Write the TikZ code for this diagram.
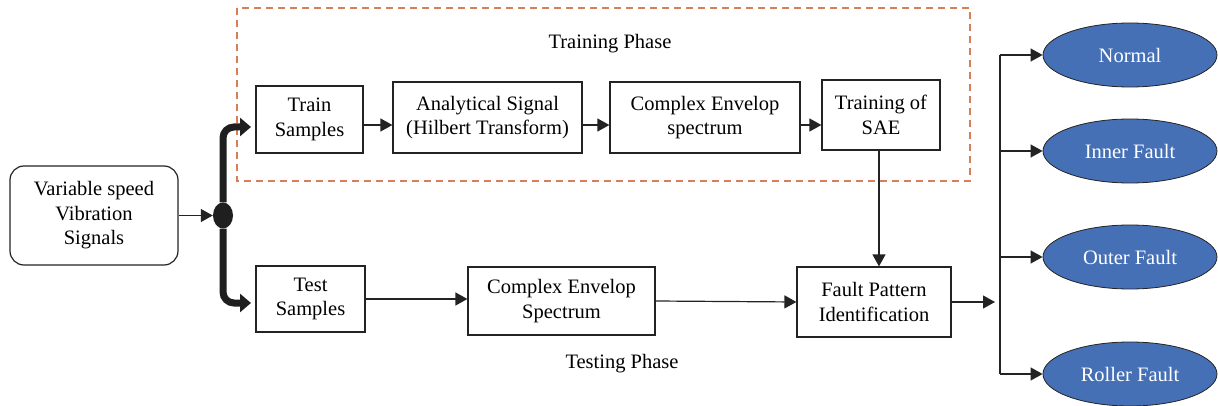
\documentclass[tikz,border=0pt]{standalone}
\usepackage{fontspec}
\setmainfont{Liberation Serif}
\usetikzlibrary{arrows.meta,shapes.geometric}
\definecolor{linegray}{RGB}{35,35,35}
\definecolor{phaseorange}{RGB}{214,128,88}
\definecolor{classblue}{RGB}{70,112,182}
\begin{document}
\begin{tikzpicture}[x=1pt,y=-1pt,
  font=\fontsize{20.5}{24.5}\selectfont,
  box/.style={draw=linegray, line width=1.2pt, align=center, inner sep=0pt},
  arr/.style={draw=linegray, line width=1.2pt, -{Triangle[length=12pt,width=13pt]}},
  thick/.style={draw=black!88, line width=7pt, rounded corners=11pt,
    -{Triangle[length=11pt,width=18pt]}},
  cls/.style={ellipse, draw=linegray, fill=classblue, text=white, line width=0.8pt,
    minimum width=174pt, minimum height=64pt, inner sep=0pt}]
\useasboundingbox (0,0) rectangle (1218,406);

% training phase frame
\draw[phaseorange, line width=1.3pt, dash pattern=on 7pt off 5pt] (237,8) rectangle (970,181);
\node (trainlbl) at (610,44) {Training Phase};
\node (testlbl) at (622,364) {Testing Phase};

% input and splitter
\node[box, rounded corners=14pt, minimum width=168pt, minimum height=99pt] (src) at (94,215.5)
  {Variable speed\\Vibration\\Signals};
\node[ellipse, fill=black!88, minimum width=20pt, minimum height=26pt, inner sep=0pt] (dot) at (223,215.5) {};

% training branch
\node[box, minimum width=107pt, minimum height=67pt] (train) at (309.5,119.5) {Train\\Samples};
\node[box, minimum width=189pt, minimum height=71pt] (hilb) at (487.5,117.5) {Analytical Signal\\(Hilbert Transform)};
\node[box, minimum width=190pt, minimum height=71pt] (cenv) at (705,117.5) {Complex Envelop\\spectrum};
\node[box, minimum width=118pt, minimum height=70pt] (sae) at (881,115) {Training of\\SAE};

% testing branch
\node[box, minimum width=109pt, minimum height=66pt] (test) at (310.5,299) {Test\\Samples};
\node[box, minimum width=187pt, minimum height=68pt] (cspec) at (561.5,301) {Complex Envelop\\Spectrum};
\node[box, minimum width=154pt, minimum height=70pt] (fpi) at (874,302) {Fault Pattern\\Identification};

% classes
\node[cls] (normal) at (1130,55) {Normal};
\node[cls] (inner) at (1130,151) {Inner Fault};
\node[cls] (outer) at (1130,257) {Outer Fault};
\node[cls] (roller) at (1130,374) {Roller Fault};

% connectors
\draw[arr] (src.east) -- (dot.west);
\coordinate (tin) at (251,127);
\coordinate (sin) at (251,303);
\draw[thick] (dot.north) |- (tin);
\draw[thick] (dot.south) |- (sin);

\draw[arr] ([yshift=-5.5pt]train.east) -- ([yshift=-5.5pt]train.east -| hilb.west);
\draw[arr] ([yshift=-7.5pt]hilb.east) -- ([yshift=-7.5pt]hilb.east -| cenv.west);
\draw[arr] ([yshift=-7.5pt]cenv.east) -- ([yshift=-7.5pt]cenv.east -| sae.west);

\draw[arr] (test.east) -- (test.east -| cspec.west);
\draw[arr] (cspec.east) -- (fpi.west);
\draw[arr] (sae.south -| fpi.north) ++(5pt,0) coordinate (saedown) -- (saedown |- fpi.north);

\coordinate (out) at (995,302);
\draw[arr] (fpi.east) -- (out);

\coordinate (bx) at (1000,0);
\draw[linegray, line width=1.2pt] (normal.west -| bx) -- (roller.west -| bx);
\foreach \c in {normal,inner,outer,roller}
  \draw[arr] (\c.west -| bx) -- (\c.west);
\end{tikzpicture}
\end{document}
